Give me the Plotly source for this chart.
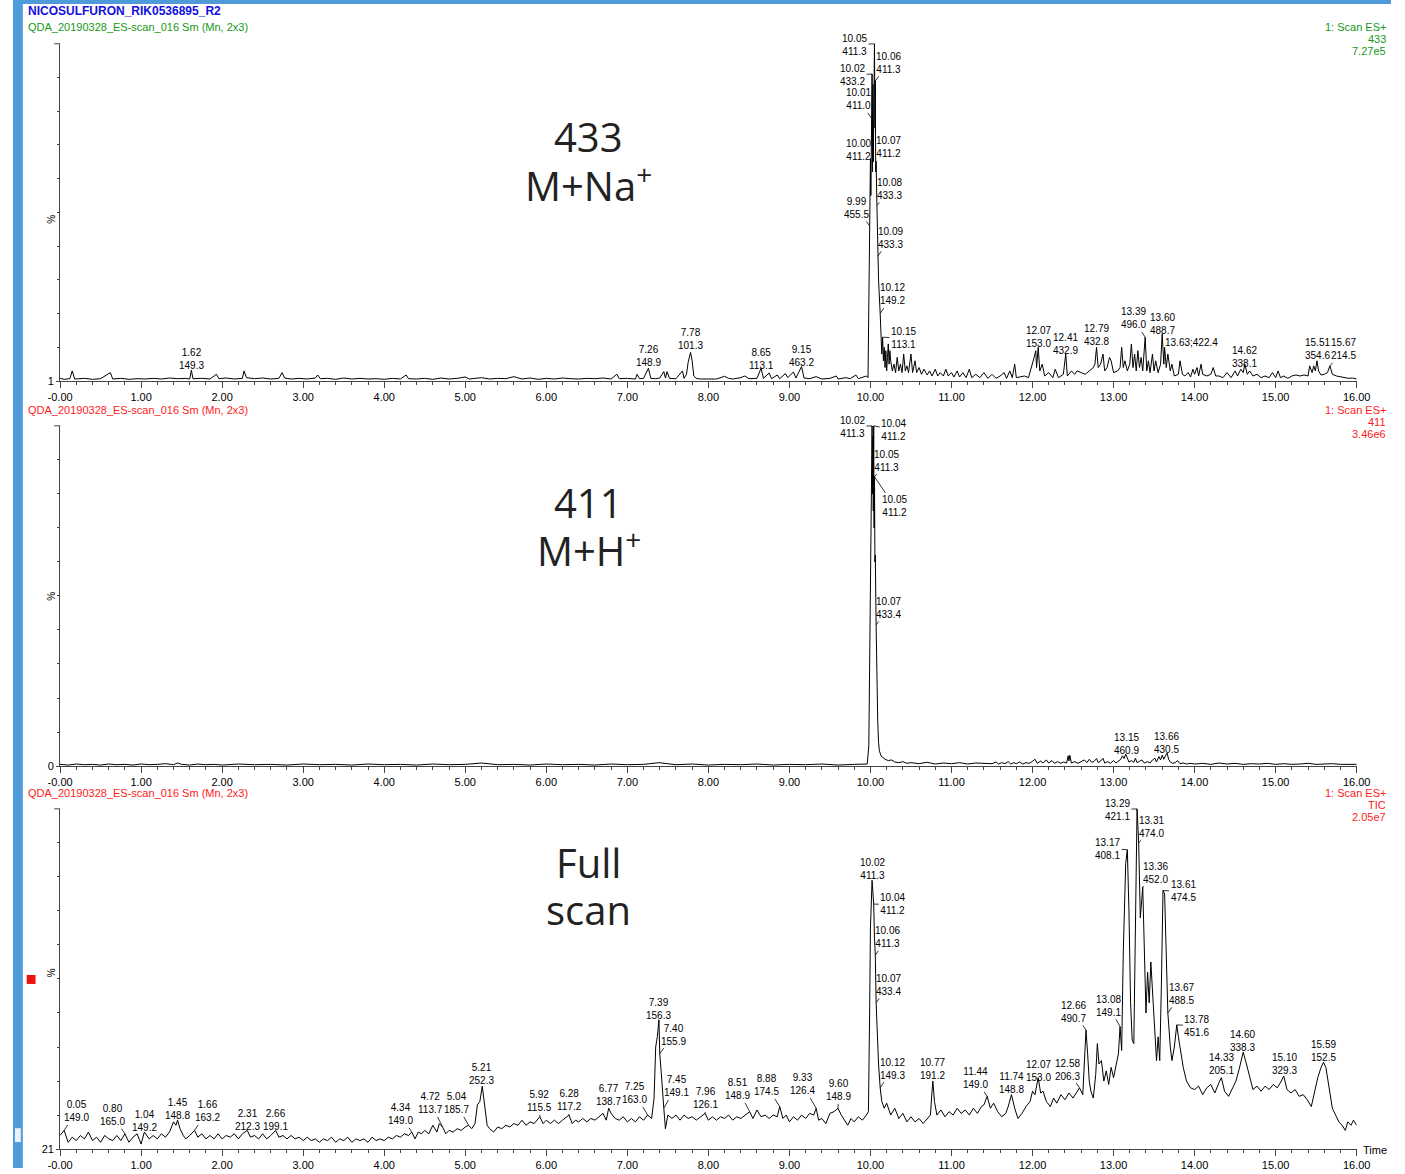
import numpy as np
import plotly.graph_objects as go

# ---------------- data ----------------
TITLE = "NICOSULFURON_RIK0536895_R2"
FILE_LABEL = "QDA_20190328_ES-scan_016 Sm (Mn, 2x3)"
X_TICKS = list(range(0, 17))
X_TICK_TEXT = ["-0.00"] + ["%.2f" % v for v in range(1, 17)]

CHANNEL = ["433", "411", "TIC"]
MAX_INT = ["7.27e5", "3.46e6", "2.05e7"]
Y_MIN_LABEL = ["1", "0", "21"]
BIG_LABEL = [("433", "M+Na<sup>+</sup>"), ("411", "M+H<sup>+</sup>"), ("Full", "scan")]

# m/z 433 trace (% of max)
TOP_T = [0.00, 0.05, 0.12, 0.15, 0.18, 0.30, 0.40, 0.50, 0.62, 0.65, 0.75, 0.85, 0.95, 1.05, 1.15,
         1.25, 1.35, 1.45, 1.55, 1.60, 1.62, 1.64, 1.75, 1.85, 1.93, 1.96, 2.05, 2.15, 2.25, 2.27,
         2.30, 2.40, 2.50, 2.60, 2.70, 2.74, 2.77, 2.85, 2.95, 3.05, 3.15, 3.18, 3.21, 3.30, 3.40,
         3.50, 3.60, 3.70, 3.80, 3.90, 4.00, 4.10, 4.20, 4.27, 4.30, 4.40, 4.50, 4.60, 4.70, 4.80,
         4.90, 5.00, 5.05, 5.20, 5.30, 5.40, 5.50, 5.60, 5.70, 5.80, 5.90, 6.00, 6.10, 6.20, 6.30,
         6.40, 6.50, 6.60, 6.70, 6.80, 6.87, 6.90, 7.00, 7.10, 7.12, 7.15, 7.20, 7.26, 7.29, 7.35,
         7.40, 7.45, 7.47, 7.49, 7.52, 7.60, 7.68, 7.70, 7.73, 7.75, 7.78, 7.80, 7.82, 7.85, 7.90,
         8.00, 8.10, 8.20, 8.25, 8.30, 8.40, 8.45, 8.50, 8.60, 8.65, 8.68, 8.75, 8.78, 8.85, 8.88,
         8.95, 8.98, 9.05, 9.08, 9.15, 9.18, 9.25, 9.33, 9.40, 9.50, 9.58, 9.60, 9.70, 9.75, 9.82,
         9.85, 9.90, 9.95, 9.97, 9.98, 9.99, 10.00, 10.005, 10.01, 10.015, 10.02, 10.025, 10.03,
         10.035, 10.04, 10.045, 10.05, 10.055,
         10.06, 10.065, 10.07, 10.08, 10.09, 10.10, 10.12, 10.13, 10.14, 10.15, 10.16, 10.17, 10.18,
         10.19, 10.20, 10.21, 10.22, 10.23, 10.24, 10.25, 10.27, 10.29, 10.31, 10.33, 10.35, 10.37,
         10.39, 10.41, 10.43, 10.45, 10.47, 10.50, 10.52, 10.55, 10.57, 10.60, 10.63, 10.66, 10.70,
         10.73, 10.76, 10.80, 10.83, 10.86, 10.90, 10.93, 10.96, 11.00, 11.03, 11.07, 11.10, 11.14,
         11.18, 11.22, 11.25, 11.30, 11.35, 11.40, 11.45, 11.50, 11.55, 11.60, 11.65, 11.68, 11.72,
         11.75, 11.78, 11.80, 11.85, 11.90, 11.95, 12.00, 12.02, 12.04, 12.05, 12.07, 12.09, 12.12,
         12.15, 12.20, 12.25, 12.28, 12.32, 12.38, 12.41, 12.43, 12.48, 12.52, 12.55, 12.60, 12.65,
         12.70, 12.75, 12.77, 12.79, 12.81, 12.84, 12.87, 12.89, 12.92, 12.95, 12.97, 13.00, 13.05,
         13.08, 13.10, 13.12, 13.14, 13.17, 13.20, 13.22, 13.24, 13.26, 13.28, 13.30, 13.32, 13.34,
         13.36, 13.39, 13.41, 13.43, 13.45, 13.48, 13.50, 13.52, 13.55, 13.58, 13.60, 13.62, 13.63,
         13.65, 13.67, 13.70, 13.72, 13.75, 13.80, 13.82, 13.85, 13.88, 13.92, 13.95, 13.98, 14.00,
         14.03, 14.05, 14.08, 14.10, 14.15, 14.20, 14.23, 14.26, 14.30, 14.35, 14.40, 14.45, 14.50,
         14.53, 14.57, 14.60, 14.62, 14.65, 14.68, 14.72, 14.77, 14.82, 14.87, 14.92, 14.96, 15.00,
         15.03, 15.06, 15.10, 15.15, 15.20, 15.25, 15.30, 15.35, 15.40, 15.42, 15.45, 15.47, 15.49,
         15.51, 15.53, 15.56, 15.60, 15.64, 15.67, 15.70, 15.75, 15.80, 15.85, 15.90, 15.95, 16.00]
TOP_V = [0.8, 0.5, 0.7, 3.0, 0.6, 0.8, 0.5, 0.7, 2.5, 0.6, 0.8, 0.5, 0.7, 0.6, 0.8,
         0.6, 0.9, 0.7, 0.8, 0.6, 3.2, 0.7, 0.8, 0.6, 2.0, 0.7, 0.9, 0.6, 0.8, 3.0,
         1.0, 0.7, 0.9, 0.6, 0.8, 2.5, 0.9, 0.6, 0.8, 0.6, 0.9, 1.8, 0.7, 0.8, 0.5,
         0.9, 0.6, 0.8, 0.6, 0.7, 0.5, 0.8, 0.6, 1.8, 0.7, 0.6, 0.8, 0.5, 0.9, 0.6,
         0.8, 1.2, 0.6, 1.0, 0.6, 0.8, 0.7, 1.3, 0.6, 0.9, 0.5, 0.8, 0.6, 0.9, 0.7,
         0.6, 0.8, 0.7, 0.9, 0.6, 2.0, 0.7, 0.8, 0.6, 2.0, 0.7, 0.8, 3.8, 0.8, 0.7,
         0.9, 2.8, 0.9, 2.8, 0.8, 0.7, 3.0, 0.8, 2.0, 5.5, 8.5, 6.0, 1.5, 0.8, 0.6,
         0.7, 0.6, 1.4, 0.8, 0.6, 1.0, 1.5, 0.7, 0.8, 3.8, 0.8, 2.4, 0.7, 1.8, 0.7,
         2.2, 1.0, 2.7, 0.9, 4.3, 0.9, 0.7, 1.3, 0.6, 0.8, 1.5, 0.6, 1.0, 0.7, 1.8,
         0.7, 1.0, 1.5, 1.0, 20.0, 46.0, 66.0, 55.0, 78.0, 60.0, 91.0, 62.0, 88.0,
         65.0, 95.0, 70.0, 100.0, 75.0,
         89.0, 62.0, 65.0, 52.0, 37.0, 30.0, 20.0, 12.0, 8.0, 13.0, 6.0, 10.0, 4.0,
         9.0, 3.0, 7.0, 11.0, 5.0, 9.0, 6.0, 3.0, 5.0, 2.5, 7.0, 3.0, 5.0,
         2.5, 8.0, 3.0, 4.5, 2.5, 8.0, 2.5, 6.0, 2.5, 4.0, 2.0, 3.5, 1.8,
         3.0, 1.5, 3.5, 1.5, 2.5, 1.5, 3.5, 1.5, 2.5, 1.2, 3.0, 1.2, 2.5,
         1.0, 3.5, 1.0, 2.0, 1.0, 2.5, 0.8, 2.0, 0.8, 1.5, 2.5, 0.8, 3.0,
         1.0, 5.0, 1.0, 1.2, 1.5, 1.0, 5.0, 7.0, 9.0, 4.0, 10.0, 3.0, 5.0,
         1.5, 2.5, 1.0, 3.5, 1.0, 2.0, 8.0, 1.5, 3.0, 2.0, 3.0, 2.5, 2.0,
         3.0, 4.0, 5.0, 10.0, 4.0, 5.0, 8.0, 3.0, 4.0, 7.0, 6.0, 2.5, 3.0,
         4.0, 10.0, 4.0, 6.0, 3.0, 5.0, 11.0, 4.0, 8.0, 3.0, 9.0, 4.0, 7.0,
         3.0, 13.0, 3.0, 6.0, 2.5, 8.0, 3.0, 6.0, 2.5, 5.0, 14.0, 5.0, 10.0,
         4.0, 8.0, 3.0, 5.0, 1.5, 2.0, 6.0, 2.0, 1.5, 2.5, 1.2, 3.5, 2.0,
         4.0, 1.5, 5.0, 2.0, 1.5, 2.0, 4.0, 1.5, 1.5, 1.0, 2.5, 1.0, 3.0,
         1.5, 3.5, 2.5, 5.0, 2.0, 3.0, 1.5, 2.0, 1.0, 1.5, 1.0, 2.5, 1.0,
         3.0, 1.0, 1.5, 0.8, 1.5, 1.8, 1.5, 1.8, 1.5, 4.5, 2.5, 4.5, 3.0,
         6.0, 3.0, 1.8, 2.0, 2.5, 4.5, 2.0, 1.5, 1.2, 0.9, 0.8, 0.9, 0.6]

# m/z 411 trace (% of max)
MID_T = [0.00, 0.10, 0.20, 0.30, 0.40, 0.50, 0.60, 0.70, 0.80, 0.90, 1.00, 1.10, 1.20, 1.30, 1.40,
         1.45, 1.50, 1.60, 1.70, 1.80, 1.90, 2.00, 2.20, 2.40, 2.60, 2.80, 3.00, 3.20, 3.40, 3.60,
         3.80, 4.00, 4.20, 4.40, 4.60, 4.80, 5.00, 5.20, 5.40, 5.60, 5.80, 6.00, 6.20, 6.40, 6.60,
         6.80, 7.00, 7.20, 7.39, 7.60, 7.80, 8.00, 8.20, 8.40, 8.60, 8.80, 9.00, 9.20, 9.40, 9.60,
         9.80, 9.96, 9.98, 9.99, 10.00, 10.01, 10.02, 10.025, 10.03, 10.035, 10.04, 10.045, 10.05,
         10.055, 10.06,
         10.07, 10.08, 10.09, 10.10, 10.11, 10.13, 10.15, 10.18, 10.22, 10.26, 10.30, 10.35, 10.40,
         10.45, 10.50, 10.60, 10.70, 10.80, 10.90, 11.00, 11.10, 11.20, 11.30, 11.40, 11.50, 11.55,
         11.58, 11.62, 11.66, 11.70, 11.73, 11.77, 11.80, 11.84, 11.88, 11.92, 11.96, 12.00, 12.03,
         12.06, 12.10, 12.13, 12.17, 12.20, 12.24, 12.27, 12.31, 12.35, 12.38, 12.42, 12.44, 12.45,
         12.46, 12.48, 12.52, 12.56, 12.60, 12.64, 12.67, 12.70, 12.73, 12.76, 12.79, 12.81, 12.84,
         12.87, 12.89, 12.93, 12.96, 13.00, 13.03, 13.06, 13.09, 13.11, 13.13, 13.15, 13.17, 13.19,
         13.22, 13.25, 13.27, 13.29, 13.32, 13.35, 13.38, 13.42, 13.45, 13.48, 13.51, 13.53, 13.56,
         13.58, 13.60, 13.62, 13.64, 13.66, 13.68, 13.70, 13.73, 13.76, 13.79, 13.82, 13.86, 13.90,
         13.95, 14.00, 14.10, 14.20, 14.30, 14.40, 14.50, 14.60, 14.70, 14.80, 14.90, 15.00, 15.10,
         15.20, 15.30, 15.40, 15.50, 15.60, 15.70, 15.80, 15.90, 16.00]
MID_V = [0.5, 0.3, 0.6, 0.4, 0.5, 0.3, 0.6, 0.4, 0.5, 0.3, 0.6, 0.4, 0.5, 0.7, 0.4,
         0.9, 0.5, 0.3, 0.6, 0.4, 0.5, 0.3, 0.6, 0.4, 0.5, 0.3, 0.6, 0.4, 0.5, 0.3,
         0.6, 0.4, 0.5, 0.3, 0.6, 0.4, 0.5, 0.9, 0.4, 0.5, 0.3, 0.6, 0.4, 0.5, 0.3,
         0.6, 0.4, 0.5, 1.0, 0.4, 0.6, 0.3, 0.5, 0.4, 0.6, 0.3, 0.5, 0.4, 0.6, 0.3,
         0.5, 0.6, 6.0, 30.0, 65.0, 88.0, 100.0, 80.0, 97.0, 75.0, 100.0, 70.0, 85.0,
         60.0, 62.0,
         41.5, 24.0, 13.0, 7.0, 4.5, 3.0, 2.5, 2.0, 1.6, 1.8, 1.2, 1.0, 1.3,
         0.8, 1.0, 0.7, 1.1, 0.6, 0.9, 0.7, 1.0, 0.6, 0.9, 0.7, 0.7, 1.2,
         0.6, 1.0, 0.7, 1.3, 0.6, 1.0, 0.7, 1.2, 0.6, 1.0, 0.8, 1.4, 2.0,
         0.8, 1.5, 0.9, 1.8, 0.9, 1.6, 0.8, 1.3, 0.8, 1.2, 0.9, 3.0, 1.5,
         3.2, 0.9, 1.3, 0.8, 1.2, 1.8, 1.0, 2.0, 1.1, 1.4, 2.2, 1.0, 1.5,
         2.3, 0.9, 1.3, 0.8, 1.6, 0.9, 1.4, 2.0, 3.0, 2.2, 3.5, 2.5, 1.2,
         1.6, 1.1, 2.3, 1.0, 1.4, 1.8, 0.9, 1.3, 0.9, 1.8, 2.3, 1.2, 2.8,
         1.8, 3.2, 2.0, 3.0, 3.8, 2.0, 1.2, 0.8, 1.0, 1.6, 0.7, 0.9, 0.6,
         0.8, 0.6, 0.8, 0.5, 0.9, 0.6, 0.8, 0.5, 0.7, 0.6, 0.8, 0.5, 0.7,
         0.5, 0.6, 0.8, 0.5, 0.6, 0.7, 0.5, 0.6, 0.5]

# TIC trace (% of max)
TIC_T = [0.00, 0.05, 0.10, 0.15, 0.20, 0.25, 0.30, 0.35, 0.40, 0.45, 0.50, 0.55, 0.60, 0.65, 0.70,
         0.75, 0.80, 0.85, 0.90, 0.95, 1.00, 1.04, 1.10, 1.15, 1.20, 1.25, 1.30, 1.35, 1.40, 1.43,
         1.45, 1.48, 1.52, 1.55, 1.60, 1.66, 1.70, 1.75, 1.80, 1.85, 1.90, 1.95, 2.00, 2.05, 2.10,
         2.15, 2.20, 2.25, 2.31, 2.35, 2.40, 2.45, 2.50, 2.55, 2.60, 2.66, 2.70, 2.75, 2.80, 2.85,
         2.90, 2.95, 3.00, 3.05, 3.10, 3.15, 3.20, 3.25, 3.30, 3.35, 3.40, 3.45, 3.50, 3.55, 3.60,
         3.65, 3.70, 3.75, 3.80, 3.85, 3.90, 3.95, 4.00, 4.05, 4.10, 4.15, 4.20, 4.25, 4.30, 4.34,
         4.38, 4.42, 4.46, 4.50, 4.55, 4.60, 4.65, 4.68, 4.72, 4.76, 4.80, 4.85, 4.90, 4.95, 5.00,
         5.04, 5.08, 5.12, 5.15, 5.18, 5.21, 5.24, 5.27, 5.30, 5.35, 5.40, 5.45, 5.50, 5.55, 5.60,
         5.65, 5.70, 5.75, 5.80, 5.85, 5.92, 5.96, 6.00, 6.05, 6.10, 6.15, 6.20, 6.28, 6.32, 6.36,
         6.40, 6.45, 6.50, 6.55, 6.60, 6.65, 6.70, 6.74, 6.77, 6.80, 6.85, 6.90, 6.95, 7.00, 7.05,
         7.10, 7.15, 7.20, 7.25, 7.30, 7.33, 7.35, 7.37, 7.39, 7.40, 7.42, 7.44, 7.45, 7.47, 7.50,
         7.55, 7.60, 7.65, 7.70, 7.75, 7.80, 7.85, 7.90, 7.96, 8.00, 8.05, 8.10, 8.15, 8.20, 8.25,
         8.30, 8.35, 8.40, 8.45, 8.51, 8.55, 8.60, 8.65, 8.70, 8.75, 8.80, 8.85, 8.88, 8.92, 8.96,
         9.00, 9.05, 9.10, 9.15, 9.20, 9.25, 9.30, 9.33, 9.36, 9.40, 9.45, 9.50, 9.55, 9.60, 9.64,
         9.68, 9.72, 9.76, 9.80, 9.85, 9.90, 9.95, 9.975, 9.99, 10.00, 10.02, 10.03, 10.04, 10.05,
         10.06, 10.07, 10.08, 10.10, 10.12, 10.14, 10.17, 10.20, 10.25, 10.30, 10.35, 10.40, 10.45,
         10.50, 10.55, 10.60, 10.65, 10.70, 10.74, 10.76, 10.77, 10.79, 10.82, 10.87, 10.92, 10.97,
         11.02, 11.07, 11.12, 11.17, 11.22, 11.27, 11.32, 11.37, 11.40, 11.44, 11.48, 11.52, 11.57,
         11.62, 11.67, 11.70, 11.74, 11.78, 11.82, 11.87, 11.92, 11.97, 12.00, 12.03, 12.07, 12.10,
         12.13, 12.17, 12.22, 12.26, 12.30, 12.35, 12.40, 12.45, 12.50, 12.54, 12.58, 12.62, 12.64,
         12.66, 12.68, 12.70, 12.72, 12.75, 12.78, 12.80, 12.82, 12.85, 12.88, 12.91, 12.94, 12.97,
         13.00, 13.03, 13.06, 13.08, 13.10, 13.12, 13.15, 13.17, 13.19, 13.21, 13.23, 13.25, 13.27,
         13.29, 13.31, 13.33, 13.36, 13.38, 13.40, 13.42, 13.44, 13.46, 13.48, 13.50, 13.52, 13.53,
         13.55, 13.57, 13.59, 13.61, 13.63, 13.65, 13.67, 13.70, 13.72, 13.75, 13.78, 13.80, 13.83,
         13.86, 13.90, 13.95, 14.00, 14.05, 14.10, 14.15, 14.20, 14.25, 14.30, 14.33, 14.37, 14.42,
         14.47, 14.51, 14.55, 14.60, 14.64, 14.68, 14.72, 14.77, 14.82, 14.87, 14.92, 14.97, 15.02,
         15.07, 15.10, 15.14, 15.19, 15.24, 15.29, 15.34, 15.39, 15.44, 15.48, 15.52, 15.56, 15.59,
         15.62, 15.66, 15.70, 15.74, 15.78, 15.82, 15.86, 15.89, 15.93, 15.96, 16.00]
TIC_V = [4.0, 5.5, 2.0, 3.5, 2.5, 4.0, 3.0, 5.0, 2.5, 3.5, 2.0, 4.0, 3.0, 2.5, 4.0,
         2.5, 4.5, 2.0, 3.5, 4.5, 1.5, 5.0, 3.0, 4.0, 3.0, 4.5, 3.5, 5.0, 8.0, 7.0,
         8.5, 6.0, 4.0, 3.0, 4.0, 5.5, 3.5, 4.5, 3.0, 4.0, 3.0, 4.5, 3.0, 4.0, 3.5,
         4.5, 3.0, 4.5, 5.5, 3.5, 4.0, 3.0, 4.5, 3.0, 4.0, 5.5, 3.5, 4.0, 3.0, 4.0,
         3.0, 3.5, 2.5, 3.5, 2.5, 3.0, 2.0, 3.0, 2.5, 3.5, 2.0, 3.0, 2.5, 3.5, 2.0,
         3.0, 2.5, 3.0, 2.0, 3.5, 2.5, 3.0, 2.5, 3.5, 3.0, 4.0, 3.5, 4.5, 4.0, 5.0,
         3.0, 5.0, 4.5, 5.5, 4.5, 7.0, 5.0, 7.5, 6.5, 4.5, 5.5, 5.0, 6.0, 5.5, 6.5,
         7.0, 6.0, 7.5, 13.0, 14.0, 18.5, 13.0, 7.0, 6.0, 5.0, 6.5, 6.0, 7.0, 6.5, 7.5,
         7.0, 8.5, 7.0, 8.0, 7.5, 9.5, 7.5, 8.5, 7.5, 8.5, 7.5, 8.5, 10.0, 7.5, 8.5,
         8.0, 9.0, 8.0, 9.0, 8.5, 9.5, 10.5, 8.5, 12.0, 10.5, 9.0, 8.5, 9.5, 8.0, 9.0,
         8.0, 9.5, 8.5, 10.0, 9.0, 15.0, 30.0, 33.0, 38.0, 28.0, 22.0, 14.0, 12.0, 6.0, 10.0,
         9.0, 10.0, 8.5, 10.0, 9.0, 9.5, 8.5, 9.5, 10.5, 8.5, 9.5, 8.5, 9.5, 9.0, 10.0,
         8.5, 9.5, 9.0, 10.0, 11.0, 9.0, 11.5, 9.5, 10.0, 9.0, 10.0, 9.5, 12.5, 9.0, 10.0,
         8.0, 9.5, 8.5, 10.0, 9.0, 10.5, 10.0, 12.0, 8.5, 9.0, 7.5, 10.5, 11.0, 12.0, 10.0,
         8.5, 7.0, 9.0, 8.0, 9.5, 8.5, 10.0, 11.0, 40.0, 65.0, 79.0, 74.0, 72.0, 62.0,
         57.0, 43.0, 35.0, 25.0, 18.0, 14.0, 12.0, 13.5, 10.0, 12.0, 9.0, 10.5, 8.0,
         9.5, 8.0, 9.0, 7.5, 9.0, 10.0, 17.0, 20.0, 14.0, 10.0, 11.5, 9.5, 11.0,
         10.0, 12.0, 10.5, 11.5, 10.0, 12.0, 10.5, 12.5, 13.0, 15.5, 12.0, 13.5, 11.0,
         9.5, 10.5, 12.5, 16.0, 12.0, 9.0, 10.5, 12.5, 14.0, 17.0, 16.0, 21.0, 16.5,
         17.0, 14.0, 12.5, 15.0, 13.5, 16.0, 14.5, 16.5, 15.0, 16.5, 18.0, 16.0, 26.0,
         35.0, 28.0, 20.0, 17.0, 15.0, 22.0, 31.0, 25.0, 26.0, 20.0, 23.0, 19.0, 24.0,
         21.0, 25.0, 28.0, 36.0, 29.0, 58.0, 84.0, 88.0, 70.0, 43.0, 32.0, 31.0, 68.0,
         100.0, 90.0, 68.0, 77.0, 58.0, 40.0, 52.0, 43.0, 55.0, 47.0, 38.0, 32.0, 26.0,
         33.0, 26.0, 48.0, 76.0, 75.0, 53.0, 40.0, 30.0, 26.0, 30.0, 36.5, 33.0, 28.0,
         24.0, 20.0, 18.0, 17.5, 18.5, 16.0, 18.0, 19.0, 16.5, 19.5, 21.0, 17.0, 15.5,
         18.0, 20.0, 23.5, 28.5, 25.0, 21.0, 17.5, 18.5, 17.0, 18.5, 17.5, 19.0, 18.0,
         20.0, 21.5, 17.5, 16.5, 17.5, 15.5, 16.0, 14.5, 12.5, 17.0, 21.0, 24.0, 25.5,
         24.0, 18.0, 12.0, 10.0, 8.0, 7.0, 5.5, 8.0, 7.0, 8.5, 7.0]

# peak labels (retention time, base m/z)
TOP_PK_T = [1.62, 7.26, 7.78, 8.65, 9.15, 9.99, 10.00, 10.01, 10.02, 10.05, 10.06, 10.07, 10.08,
            10.09, 10.12, 10.15, 12.07, 12.41, 12.79, 13.39, 13.60, 13.63, 14.62, 15.51, 15.67]
TOP_PK_MZ = ["149.3", "148.9", "101.3", "113.1", "463.2", "455.5", "411.2", "411.0", "433.2",
             "411.3", "411.3", "411.2", "433.3", "433.3", "149.2", "113.1", "153.0", "432.9",
             "432.8", "496.0", "488.7", "422.4", "338.1", "354.6", "214.5"]
MID_PK_T = [10.02, 10.04, 10.05, 10.05, 10.07, 13.15, 13.66]
MID_PK_MZ = ["411.3", "411.2", "411.3", "411.2", "433.4", "460.9", "430.5"]
TIC_PK_T = [0.05, 0.80, 1.04, 1.45, 1.66, 2.31, 2.66, 4.34, 4.72, 5.04, 5.21, 5.92, 6.28, 6.77,
            7.25, 7.39, 7.40, 7.45, 7.96, 8.51, 8.88, 9.33, 9.60, 10.02, 10.04, 10.06, 10.07,
            10.12, 10.77, 11.44, 11.74, 12.07, 12.58, 12.66, 13.08, 13.17, 13.29, 13.31, 13.36,
            13.61, 13.67, 13.78, 14.33, 14.60, 15.10, 15.59]
TIC_PK_MZ = ["149.0", "165.0", "149.2", "148.8", "163.2", "212.3", "199.1", "149.0", "113.7",
             "185.7", "252.3", "115.5", "117.2", "138.7", "163.0", "156.3", "155.9", "149.1",
             "126.1", "148.9", "174.5", "126.4", "148.9", "411.3", "411.2", "411.3", "433.4",
             "149.3", "191.2", "149.0", "148.8", "153.0", "206.3", "490.7", "149.1", "408.1",
             "421.1", "474.0", "452.0", "474.5", "488.5", "451.6", "205.1", "338.3", "329.3",
             "152.5"]

assert len(TOP_T) == len(TOP_V) and len(MID_T) == len(MID_V) and len(TIC_T) == len(TIC_V)

# ---------------- layout / style (pixels) ----------------
W, H = 1405, 1174
X0, X1 = 48, 1370
PANELS = [(383, 44), (770, 428), (1155, 813)]   # (baseline px, top px)
HDR_Y = [27, 412, 797]
HDR_COLORS = ["#169a16", "#ff1a1a", "#ff1a1a"]
BIG_POS = [(587, 137, 185), (587, 505, 552), (587, 866, 914)]
AXIS_COLOR = "#444444"

# label placement: (text centre x px, centre y px, leader line?)
TOP_LBL_POS = [(182, 361, 0), (648, 358, 0), (691, 341, 0), (763, 361, 0), (804, 358, 0),
               (860, 209, 1), (862, 151, 1), (862, 100, 1), (856, 75, 1), (858, 45, 1),
               (893, 63, 1), (893, 148, 1), (894, 190, 1), (895, 239, 1), (897, 296, 1),
               (908, 340, 1), (1046, 339, 0), (1073, 346, 0), (1105, 337, 0), (1142, 320, 1),
               (1172, 326, 0), (1202, 344, 1), (1256, 359, 0), (1330, 351, 0), (1357, 351, 1)]
MID_LBL_POS = [(856, 429, 1), (898, 432, 1), (891, 463, 1), (899, 509, 1), (893, 611, 1),
               (1135, 748, 0), (1176, 747, 0)]
TIC_LBL_POS = [(65, 1117, 1), (101, 1121, 1), (134, 1127, 1), (168, 1115, 0), (198, 1117, 1),
               (239, 1126, 1), (268, 1126, 1), (395, 1120, 1), (426, 1109, 1), (452, 1109, 1),
               (478, 1080, 0), (537, 1107, 1), (567, 1106, 1), (607, 1101, 1), (634, 1099, 1),
               (658, 1014, 0), (673, 1040, 1), (676, 1092, 1), (706, 1104, 1), (739, 1095, 1),
               (768, 1091, 1), (805, 1090, 1), (842, 1096, 1), (876, 873, 0), (897, 909, 1),
               (892, 942, 1), (893, 990, 1), (897, 1074, 1), (938, 1074, 0), (981, 1084, 1),
               (1018, 1089, 1), (1046, 1077, 0), (1075, 1075, 1), (1081, 1017, 1), (1117, 1011, 1),
               (1116, 853, 1), (1126, 814, 1), (1161, 831, 1), (1165, 877, 1), (1193, 896, 1),
               (1191, 999, 1), (1207, 1031, 1), (1232, 1069, 0), (1254, 1046, 0), (1296, 1069, 0),
               (1336, 1056, 0)]

FONT = "Arial, 'Liberation Sans', sans-serif"


def px_to_t(px):
    return (px - X0) / (X1 - X0) * 16.0


def py_to_v(py, panel):
    base, top = PANELS[panel]
    return (base - py) / (base - top) * 100.0


def yp(py):
    return 1 - py / H


fig = go.Figure()
traces = [(TOP_T, TOP_V), (MID_T, MID_V), (TIC_T, TIC_V)]
labels = [(TOP_PK_T, TOP_PK_MZ, TOP_LBL_POS), (MID_PK_T, MID_PK_MZ, MID_LBL_POS),
          (TIC_PK_T, TIC_PK_MZ, TIC_LBL_POS)]
annotations = []
shapes = []

for i in range(3):
    n = "" if i == 0 else str(i + 1)
    xa, ya = "x" + n, "y" + n
    t, v = traces[i]
    fig.add_trace(go.Scatter(x=t, y=v, mode="lines", line=dict(color="black", width=1),
                             xaxis=xa, yaxis=ya, showlegend=False, hoverinfo="skip"))
    base, top = PANELS[i]
    fig.layout["xaxis" + n] = dict(
        domain=[X0 / W, X1 / W], range=[0, 16], anchor=ya, showgrid=False, zeroline=False,
        showline=True, linecolor=AXIS_COLOR, linewidth=1, ticks="outside", ticklen=6,
        tickcolor=AXIS_COLOR, tickvals=X_TICKS, ticktext=X_TICK_TEXT,
        tickfont=dict(family=FONT, size=11, color="black"),
        minor=dict(dtick=0.2, ticklen=3, ticks="outside", tickcolor=AXIS_COLOR, showgrid=False),
        fixedrange=True)
    fig.layout["yaxis" + n] = dict(
        domain=[yp(base), yp(top)], range=[0, 100], anchor=xa, showgrid=False, zeroline=False,
        showline=True, linecolor=AXIS_COLOR, linewidth=1, ticks="outside", ticklen=3,
        tickcolor=AXIS_COLOR, tickvals=[0], ticktext=[Y_MIN_LABEL[i]],
        tickfont=dict(family=FONT, size=11, color="black"),
        minor=dict(tickvals=[10, 20, 30, 40, 50, 60, 70, 80, 90], ticklen=2, ticks="outside",
                   tickcolor=AXIS_COLOR, showgrid=False),
        fixedrange=True)
    # longer top tick at 100 %
    shapes.append(dict(type="line", xref="paper", yref="paper", x0=(X0 - 6) / W, x1=X0 / W,
                       y0=yp(top), y1=yp(top), line=dict(color=AXIS_COLOR, width=1)))

    annotations.append(dict(xref="paper", yref="paper", x=32 / W, y=yp((base + top) / 2),
                            text="%", showarrow=False, textangle=-90,
                            font=dict(family=FONT, size=10, color="black")))
    annotations.append(dict(xref="paper", yref="paper", x=13 / W, y=yp(HDR_Y[i]), xanchor="left",
                            yanchor="middle", text=FILE_LABEL, showarrow=False,
                            font=dict(family=FONT, size=11, color=HDR_COLORS[i])))
    for k, txt in enumerate(["1: Scan ES+", CHANNEL[i], MAX_INT[i]]):
        annotations.append(dict(xref="paper", yref="paper", x=1402 / W, y=yp(HDR_Y[i] + 12.3 * k),
                                xanchor="right", yanchor="middle", text=txt, showarrow=False,
                                height=12,
                                font=dict(family=FONT, size=11, color=HDR_COLORS[i])))
    bx, by1, by2 = BIG_POS[i]
    for txt, by in zip(BIG_LABEL[i], (by1, by2)):
        annotations.append(dict(xref="paper", yref="paper", x=bx / W, y=yp(by), xanchor="center",
                                yanchor="middle", text=txt, showarrow=False, height=44,
                                font=dict(family="'Open Sans', 'DejaVu Sans', sans-serif",
                                          size=40, color="#222222")))
    pk_t, pk_mz, pos = labels[i]
    for tt, mz, (lx, ly, lead) in zip(pk_t, pk_mz, pos):
        if i == 0 and abs(tt - 13.63) < 1e-6:
            text = "%.2f;%s" % (tt, mz)
        else:
            text = "%.2f<br>%s" % (tt, mz)
        tx, ty = px_to_t(lx), py_to_v(ly, i)
        if lead:
            anchor_v = float(np.interp(tt, t, v))
            annotations.append(dict(xref=xa, yref=ya, x=tt, y=anchor_v, axref=xa, ayref=ya,
                                    ax=tx, ay=ty, text=text, showarrow=True, arrowhead=0,
                                    arrowwidth=0.8, arrowcolor="black", standoff=0,
                                    font=dict(family=FONT, size=10, color="black")))
        else:
            annotations.append(dict(xref=xa, yref=ya, x=tx, y=ty, text=text, showarrow=False,
                                    font=dict(family=FONT, size=10, color="black")))

annotations.append(dict(xref="paper", yref="paper", x=13 / W, y=yp(11), xanchor="left",
                        yanchor="middle", text="<b>%s</b>" % TITLE, showarrow=False,
                        font=dict(family=FONT, size=12, color="#1010e0")))
annotations.append(dict(xref="paper", yref="paper", x=1389 / W, y=yp(1156), xanchor="center",
                        yanchor="middle", text="Time", showarrow=False,
                        font=dict(family=FONT, size=11, color="black")))

# window frame (blue left strip and top band), red marker, small white icon
shapes.append(dict(type="rect", xref="paper", yref="paper", x0=0, x1=10 / W, y0=0, y1=1,
                   fillcolor="#4f9bd9", line=dict(width=0), layer="below"))
shapes.append(dict(type="rect", xref="paper", yref="paper", x0=0, x1=1, y0=yp(4), y1=1,
                   fillcolor="#4f9bd9", line=dict(width=0), layer="below"))
shapes.append(dict(type="rect", xref="paper", yref="paper", x0=14 / W, x1=23 / W,
                   y0=yp(989), y1=yp(980), fillcolor="#ee1111", line=dict(width=0)))
shapes.append(dict(type="rect", xref="paper", yref="paper", x0=2 / W, x1=8 / W,
                   y0=yp(1148), y1=yp(1134), fillcolor="#e8f0f8", line=dict(width=0)))

fig.update_layout(width=W, height=H, margin=dict(l=0, r=0, t=0, b=0),
                  paper_bgcolor="white", plot_bgcolor="white",
                  annotations=annotations, shapes=shapes, showlegend=False)

fig.write_html("out.html", config={"displayModeBar": False},
               post_script="document.body.style.margin='0';document.body.style.overflow='hidden';")
